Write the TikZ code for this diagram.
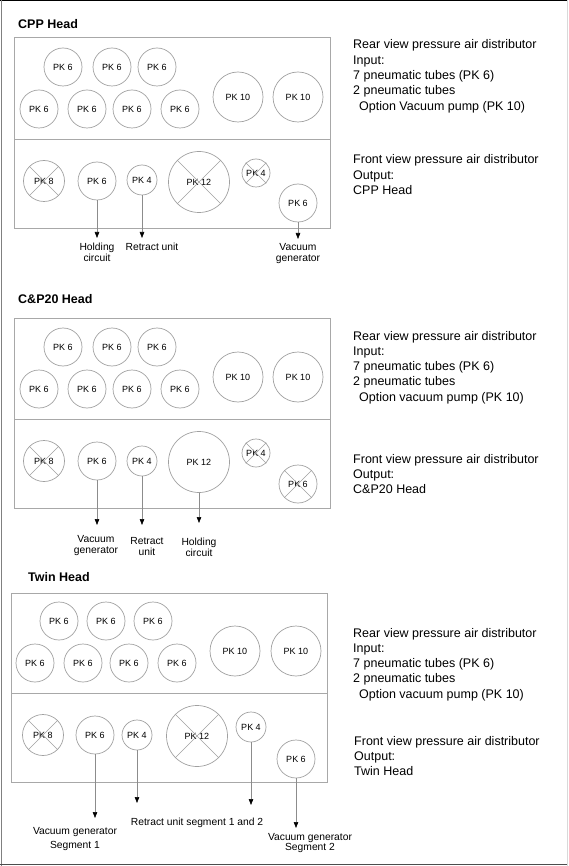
\documentclass[tikz,border=0pt]{standalone}
\usepackage{fontspec}
\setmainfont{Liberation Sans}
\usetikzlibrary{arrows.meta}
\definecolor{circc}{HTML}{A0A0A0}
\definecolor{boxc}{HTML}{A8A8A8}
\definecolor{arrc}{HTML}{8C8C8C}
\newcommand\crossout[1]{\draw[xline] (#1.45) -- (#1.225) (#1.135) -- (#1.315);}
\begin{document}
\begin{tikzpicture}[x=1pt,y=-1pt,
  pk/.style={circle,draw=circc,line width=0.7pt,inner sep=0pt,font=\fontsize{9}{10}\selectfont},
  pksix/.style={pk,minimum size=38pt},
  pkten/.style={pk,minimum size=50pt},
  pkfour/.style={pk,minimum size=30pt},
  pkfoursmall/.style={pk,minimum size=28pt},
  pkeight/.style={pk,minimum size=41pt},
  pktwelve/.style={pk,minimum size=61pt},
  xline/.style={draw=circc,line width=0.6pt},
  panel/.style={draw=boxc,line width=0.8pt},
  arr/.style={draw=arrc,line width=0.6pt,-{Triangle[length=6pt,width=4.5pt,color=black]}},
  title/.style={anchor=base west,inner sep=0pt,font=\bfseries\fontsize{12.5}{15}\selectfont},
  desc/.style={anchor=base west,inner sep=0pt,font=\fontsize{12.5}{15.3}\selectfont},
  lbl/.style={anchor=base,inner sep=0pt,font=\fontsize{10.3}{11}\selectfont},
]
\useasboundingbox (0,0) rectangle (568,866);
% outer frame
\draw[black,line width=1.5pt] (0,0.75) -- (568,0.75);
\draw[gray,line width=1pt] (1.2,0) -- (1.2,866);
\draw[black!70,line width=1.3pt] (0,864.8) -- (567,864.8);
\draw[black!15,line width=0.8pt] (567.2,0) -- (567.2,866);

% ================= Section 1: CPP Head =================
\node[title] (t1) at (18,28.5) {CPP Head};
\draw[panel] (14,37) rectangle (330,228);
\draw[panel] (14,139) -- (330,139);
\node[pksix] (a1) at (63,67) {PK 6};
\node[pksix] (a2) at (112,67) {PK 6};
\node[pksix] (a3) at (157,67) {PK 6};
\node[pksix] (a4) at (39,109) {PK 6};
\node[pksix] (a5) at (87,109) {PK 6};
\node[pksix] (a6) at (132,109) {PK 6};
\node[pksix] (a7) at (180,109) {PK 6};
\node[pkten] (a8) at (238,97) {PK 10};
\node[pkten] (a9) at (298,97) {PK 10};
\node[pkeight] (af1) at (44,181) {PK 8};
\crossout{af1}
\node[pksix] (af2) at (97,181) {PK 6};
\node[pkfour] (af3) at (142,180) {PK 4};
\node[pktwelve] (af4) at (199,182) {PK 12};
\crossout{af4}
\node[pkfoursmall] (af5) at (256,173) {PK 4};
\crossout{af5}
\node[pksix] (af6) at (298,203) {PK 6};
\coordinate (ae2) at (97,238);
\coordinate (ae3) at (142,238);
\coordinate (ae6) at (298,239);
\draw[arr] (af2.south) -- (ae2);
\draw[arr] (af3.south) -- (ae3);
\draw[arr] (af6.south) -- (ae6);
\node[lbl] (al2) at (97,251) {\begin{tabular}[t]{@{}c@{}}Holding\\circuit\end{tabular}};
\node[lbl] (al3) at (152,251) {Retract unit};
\node[lbl] (al6) at (298,251) {\begin{tabular}[t]{@{}c@{}}Vacuum\\generator\end{tabular}};
\node[desc] (ad1) at (353,49) {\begin{tabular}[t]{@{}l@{}}Rear view pressure air distributor\\Input:\\7 pneumatic tubes (PK 6)\\2 pneumatic tubes\\\hspace{6pt}Option Vacuum pump (PK 10)\end{tabular}};
\node[desc] (ad2) at (353,164) {\begin{tabular}[t]{@{}l@{}}Front view pressure air distributor\\Output:\\CPP Head\end{tabular}};

% ================= Section 2: C&P20 Head =================
\node[title] (t2) at (18,303.5) {C\&P20 Head};
\draw[panel] (14,318) rectangle (330,508);
\draw[panel] (14,419) -- (330,419);
\node[pksix] (b1) at (63,347) {PK 6};
\node[pksix] (b2) at (112,347) {PK 6};
\node[pksix] (b3) at (157,347) {PK 6};
\node[pksix] (b4) at (39,389) {PK 6};
\node[pksix] (b5) at (87,389) {PK 6};
\node[pksix] (b6) at (132,389) {PK 6};
\node[pksix] (b7) at (180,389) {PK 6};
\node[pkten] (b8) at (238,377) {PK 10};
\node[pkten] (b9) at (298,377) {PK 10};
\node[pkeight] (bf1) at (44,461) {PK 8};
\crossout{bf1}
\node[pksix] (bf2) at (97,461) {PK 6};
\node[pkfour] (bf3) at (142,461) {PK 4};
\node[pktwelve] (bf4) at (199,462) {PK 12};
\node[pkfoursmall] (bf5) at (256,453) {PK 4};
\crossout{bf5}
\node[pksix] (bf6) at (298,484) {PK 6};
\crossout{bf6}
\coordinate (be2) at (97,525);
\coordinate (be3) at (142,525);
\coordinate (be4) at (199,523);
\draw[arr] (bf2.south) -- (be2);
\draw[arr] (bf3.south) -- (be3);
\draw[arr] (bf4.south) -- (be4);
\node[lbl] (bl2) at (96,542) {\begin{tabular}[t]{@{}c@{}}Vacuum\\generator\end{tabular}};
\node[lbl] (bl3) at (147,544) {\begin{tabular}[t]{@{}c@{}}Retract\\unit\end{tabular}};
\node[lbl] (bl4) at (199,545) {\begin{tabular}[t]{@{}c@{}}Holding\\circuit\end{tabular}};
\node[desc] (bd1) at (353,340) {\begin{tabular}[t]{@{}l@{}}Rear view pressure air distributor\\Input:\\7 pneumatic tubes (PK 6)\\2 pneumatic tubes\\\hspace{6pt}Option vacuum pump (PK 10)\end{tabular}};
\node[desc] (bd2) at (353,463) {\begin{tabular}[t]{@{}l@{}}Front view pressure air distributor\\Output:\\C\&P20 Head\end{tabular}};

% ================= Section 3: Twin Head =================
\node[title] (t3) at (28,581.5) {Twin Head};
\draw[panel] (11,593) rectangle (327,782);
\draw[panel] (11,693) -- (327,693);
\node[pksix] (c1) at (59,621) {PK 6};
\node[pksix] (c2) at (106,621) {PK 6};
\node[pksix] (c3) at (153,621) {PK 6};
\node[pksix] (c4) at (35,663) {PK 6};
\node[pksix] (c5) at (83,663) {PK 6};
\node[pksix] (c6) at (129,663) {PK 6};
\node[pksix] (c7) at (177,663) {PK 6};
\node[pkten] (c8) at (235,651) {PK 10};
\node[pkten] (c9) at (296,651) {PK 10};
\node[pkeight] (cf1) at (43,735) {PK 8};
\crossout{cf1}
\node[pksix] (cf2) at (95,735) {PK 6};
\node[pkfour] (cf3) at (137,735) {PK 4};
\node[pktwelve] (cf4) at (197,736) {PK 12};
\crossout{cf4}
\node[pkfour] (cf5) at (251,727) {PK 4};
\node[pksix] (cf6) at (296,759) {PK 6};
\coordinate (ce2) at (95,818);
\coordinate (ce3) at (137,803);
\coordinate (ce5) at (251,805);
\coordinate (ce6) at (296,828);
\draw[arr] (cf2.south) -- (ce2);
\draw[arr] (cf3.south) -- (ce3);
\draw[arr] (cf5.south) -- (ce5);
\draw[arr] (cf6.south) -- (ce6);
\node[lbl,font=\fontsize{10.3}{14}\selectfont] (cl2) at (75,834) {\begin{tabular}[t]{@{}c@{}}Vacuum generator\\Segment 1\end{tabular}};
\node[lbl] (cl3) at (197,825) {Retract unit segment 1 and 2};
\node[lbl,font=\fontsize{10.3}{10.8}\selectfont] (cl6) at (310,840) {\begin{tabular}[t]{@{}c@{}}Vacuum generator\\Segment 2\end{tabular}};
\node[desc] (cd1) at (353,637) {\begin{tabular}[t]{@{}l@{}}Rear view pressure air distributor\\Input:\\7 pneumatic tubes (PK 6)\\2 pneumatic tubes\\\hspace{6pt}Option vacuum pump (PK 10)\end{tabular}};
\node[desc] (cd2) at (354,745) {\begin{tabular}[t]{@{}l@{}}Front view pressure air distributor\\Output:\\Twin Head\end{tabular}};
\end{tikzpicture}
\end{document}
